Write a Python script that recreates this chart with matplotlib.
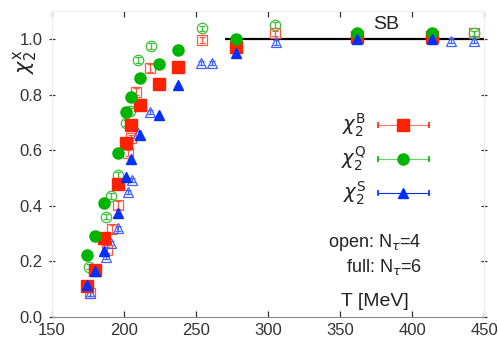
import matplotlib
matplotlib.use("Agg")
import matplotlib.pyplot as plt
import numpy as np

plt.rcParams['font.family'] = ['Liberation Sans', 'DejaVu Sans']
plt.rcParams['mathtext.fontset'] = 'dejavusans'

# Full: N_tau = 6 (filled symbols)
T6 = [174, 180, 186, 195.5, 201.5, 205, 211, 224, 237.5, 278, 362, 414]
chiB6 = [0.112, 0.169, 0.283, 0.477, 0.625, 0.69, 0.762, 0.838, 0.90, 0.972, 1.005, 1.005]
chiQ6 = [0.223, 0.292, 0.409, 0.588, 0.738, 0.79, 0.859, 0.91, 0.96, 1.0, 1.02, 1.02]
chiS6 = [0.115, 0.167, 0.237, 0.373, 0.505, 0.567, 0.655, 0.727, 0.835, 0.949, 1.0, 1.0]

# Open: N_tau = 4 (open symbols)
TB4 = [176.5, 188, 191.5, 195.5, 203, 205, 208.5, 218, 254, 305, 443]
chiB4 = [0.085, 0.24, 0.317, 0.403, 0.59, 0.645, 0.81, 0.895, 0.996, 1.02, 1.02]
errB4 = [0.01, 0.01, 0.015, 0.015, 0.012, 0.01, 0.012, 0.015, 0.01, 0.01, 0.01]
TQ4 = [176, 187.5, 191, 195.5, 201.5, 204.5, 209.5, 218.5, 254, 305, 443]
chiQ4 = [0.181, 0.361, 0.435, 0.511, 0.697, 0.74, 0.924, 0.975, 1.038, 1.05, 1.02]
errQ4 = [0.01, 0.01, 0.01, 0.01, 0.01, 0.01, 0.01, 0.01, 0.01, 0.01, 0.01]
TS4 = [176.5, 187.5, 191, 195.5, 202.5, 205.5, 209.5, 218, 253.5, 261, 305.5, 427, 443]
chiS4 = [0.085, 0.217, 0.267, 0.319, 0.449, 0.493, 0.66, 0.738, 0.913, 0.913, 0.987, 0.994, 0.994]
errS4 = [0.008] * len(TS4)

SB_level = 1.0
SB_range = [270, 450]

RED = '#ff2200'
GREEN = '#00b400'
BLUE = '#0030ff'
RED_L = '#ff5a40'
GREEN_L = '#3cc03c'
BLUE_L = '#4060ff'

fig = plt.figure(figsize=(4.98, 3.46), dpi=100)
ax = fig.add_axes([0.1044, 0.0838, 0.8675, 0.8842])
ax.set_xlim(150, 450)
ax.set_ylim(0, 1.1)

ax.hlines(SB_level, SB_range[0], SB_range[1], color='black', lw=1.6, zorder=2)

# open points
ax.errorbar(TB4, chiB4, yerr=errB4, fmt='s', ms=7.5, mfc='none', mec=RED_L, mew=0.9,
            ecolor=RED_L, elinewidth=0.9, capsize=2.5, zorder=3)
ax.errorbar(TQ4, chiQ4, yerr=errQ4, fmt='o', ms=7.5, mfc='none', mec=GREEN_L, mew=0.9,
            ecolor=GREEN_L, elinewidth=0.9, capsize=2.5, zorder=3, ls='none')
ax.errorbar(TS4, chiS4, yerr=errS4, fmt='^', ms=7, mfc='none', mec=BLUE_L, mew=0.9,
            ecolor=BLUE_L, elinewidth=0.9, capsize=2.5, zorder=3)

# full points
ax.plot(T6, chiB6, 's', ms=8.5, color=RED, mec=RED, zorder=4)
ax.plot(T6, chiQ6, 'o', ms=8, color=GREEN, mec=GREEN, zorder=4)
ax.plot(T6, chiS6, '^', ms=7.5, color=BLUE, mec=BLUE, zorder=5)

ax.set_xticks([150, 200, 250, 300, 350, 400, 450])
ax.set_yticks([0.0, 0.2, 0.4, 0.6, 0.8, 1.0])
ax.set_yticklabels(['0.0', '0.2', '0.4', '0.6', '0.8', '1.0'])
ax.tick_params(axis='both', labelsize=12, colors='#333333', length=4, width=0.9,
               direction='in', top=True, right=True)
ax.tick_params(axis='x', pad=4)
ax.tick_params(axis='y', pad=5, direction='inout')
for s in ['top', 'left', 'right']:
    ax.spines[s].set_color('#eeeeee')
ax.spines['bottom'].set_color('#888888')

ax.text(382, 1.05, 'SB', fontsize=14, ha='center', va='center', color='#222222')

# legend drawn manually
entries = [(r'$\chi_2^{\mathrm{B}}$', RED, 's', 8, 0.627),
           (r'$\chi_2^{\mathrm{Q}}$', GREEN, 'o', 8, 0.516),
           (r'$\chi_2^{\mathrm{S}}$', BLUE, '^', 7, 0.405)]
for lab, col, mk, ms, yy in entries:
    ax.text(0.727, yy, lab, transform=ax.transAxes, fontsize=14, ha='right', va='center',
            color='#222222')
    ax.plot([0.755, 0.873], [yy, yy], transform=ax.transAxes, color=col, lw=0.8,
            alpha=0.6 if col != BLUE else 1.0)
    ax.plot([0.755, 0.873], [yy, yy], '|', transform=ax.transAxes, color=col, ms=5, mew=1.2)
    ax.plot([0.8125], [yy], mk, transform=ax.transAxes, color=col, ms=ms)

ax.text(0.856, 0.242, r'open: N$_\tau$=4', transform=ax.transAxes, fontsize=13,
        ha='right', va='center', color='#222222')
ax.text(0.856, 0.164, r'full: N$_\tau$=6', transform=ax.transAxes, fontsize=13,
        ha='right', va='center', color='#222222')
ax.text(0.748, 0.05, 'T [MeV]', transform=ax.transAxes, fontsize=14,
        ha='center', va='center', color='#222222')

fig.text(0.05, 0.82, r'$\chi_2^{\mathrm{x}}$', rotation=90, fontsize=15,
         ha='center', va='center', color='#222222')

fig.savefig('out.png', dpi=100)
